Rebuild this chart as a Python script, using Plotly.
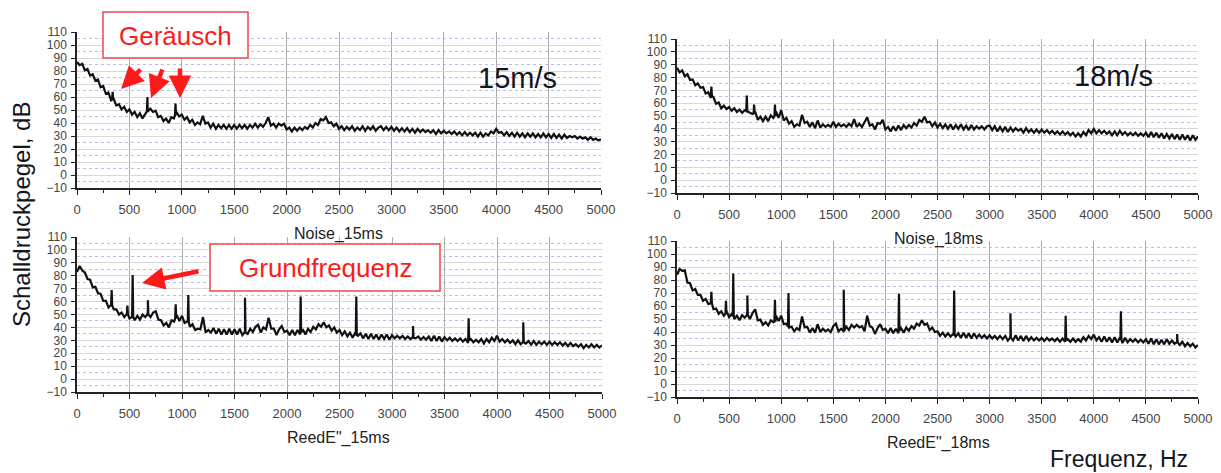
import plotly.graph_objects as go

# Frequency grid (Hz) shared by all four spectra
freq = list(range(0, 5001, 25))

# Sound pressure level (dB), 25 Hz steps
noise_15 = [
    87, 84.5, 85.5, 80.5, 81.5, 76.5, 77.5, 72.5, 73.5, 67.5, 68.5, 62.5, 63.5, 57.5, 58.5, 53.5, 54.5, 50.5, 52.5, 48.5,
    50.5, 46.5, 48.5, 44.5, 47.5, 43.5, 47.5, 48.5, 51, 48.5, 49.5, 44.5, 45.5, 41.5, 43.5, 40, 44.5, 43.5, 48.5, 45,
    46.5, 42.5, 44.5, 40.5, 42.5, 38.5, 40.5, 39, 45.5, 39.5, 40.5, 36.5, 39.5, 35.5, 38.5, 36, 38.5, 35.5, 38.5, 35.5,
    38.5, 35.5, 38.5, 36, 38.5, 35.5, 38.5, 36.5, 39.5, 36.5, 39, 37, 40, 44.5, 38, 39.5, 36.5, 39.5, 38, 39.5,
    35, 36.5, 33.5, 36.5, 34, 36.5, 34.5, 37, 35.5, 38.5, 36.5, 40, 38.5, 43, 42, 44.5, 40, 40.5, 37.5, 39.5,
    35.5, 37.5, 34.5, 37, 35, 37.5, 34, 36.5, 34.5, 37.5, 34, 37, 35, 37.5, 34, 36.5, 37.5, 34.5, 37, 34.5,
    37, 34, 36.5, 33.5, 36, 33.5, 36, 33, 35.5, 32.5, 35.5, 33, 35, 33, 34.5, 32.5, 34.5, 31.5, 34.5, 32,
    34, 32, 33.5, 31.5, 33.5, 31, 33, 30.5, 33, 30.5, 32.5, 30.5, 32.5, 29.5, 32.5, 29.5, 32, 30.5, 33.5, 32,
    35.5, 32.5, 33, 30.5, 33, 30, 32.5, 29.5, 32.5, 29.5, 32, 29, 32, 29.5, 32, 29, 31.5, 29, 32, 29,
    31.5, 28.5, 31.5, 28.5, 31, 28, 31, 28.5, 30, 29, 30, 28, 29.5, 28, 29, 27, 29, 27, 28, 26.5, 27.5,
]
noise_18 = [
    87.5, 84, 85.5, 81, 82.5, 78, 78.5, 74, 75.5, 72, 72.5, 67.5, 68.5, 64, 64.5, 59.5, 60.5, 56, 58, 55.5,
    57, 54, 56, 53, 55, 52.5, 54.5, 52.5, 52.5, 51.5, 53.5, 47, 49.5, 46, 49.5, 46, 50.5, 48.5, 53.5, 48.5,
    54.5, 46.5, 48.5, 44, 46, 41.5, 43.5, 42.5, 51, 44.5, 45.5, 41.5, 45, 40.5, 46.5, 41, 43.5, 41.5, 43, 41.5,
    45.5, 41.5, 44, 42, 43.5, 41.5, 44, 42, 47.5, 41.5, 44, 41.5, 45.5, 49, 42.5, 43.5, 39.5, 44.5, 44, 47,
    39.5, 41.5, 38, 42, 38.5, 42.5, 39, 43, 40.5, 43, 41, 44.5, 42.5, 47, 45.5, 49.5, 45, 45.5, 42, 45,
    41, 44, 40.5, 43.5, 40, 43.5, 39.5, 43, 40, 43.5, 39.5, 42.5, 39, 43, 39.5, 42, 40, 42, 39.5, 42,
    42.5, 39, 42, 38, 41.5, 38, 41.5, 37.5, 41, 38, 40.5, 38.5, 40, 37, 40.5, 37.5, 39.5, 37, 39.5, 37,
    39.5, 37, 39, 36.5, 38.5, 36, 38, 35.5, 38, 35.5, 37.5, 35, 37, 34, 36.5, 34, 37.5, 35, 39, 36.5,
    40, 36.5, 39, 36.5, 38.5, 36, 38, 35, 38, 35, 38.5, 35.5, 37.5, 35, 37, 35, 37, 34.5, 36.5, 34.5,
    37, 33.5, 37.5, 33.5, 37, 33, 36.5, 32.5, 36, 32.5, 36, 32, 35.5, 31.5, 35.5, 31.5, 35, 31, 35, 31.5, 34,
]
reed_15 = [
    83, 87.5, 84, 82.5, 77.5, 77, 71, 71.5, 66.5, 66, 60.5, 60.5, 55.5, 57.5, 54, 54, 50, 51.5, 48, 50.5,
    47, 49.5, 45.5, 49, 46, 50, 48, 52.5, 48, 51.5, 52.5, 46, 45.5, 41.5, 43.5, 40, 45.5, 44.5, 49.5, 45,
    49, 43.5, 44.5, 40.5, 42.5, 38, 39, 38.5, 48, 36, 38, 36, 39.5, 35, 39, 34.5, 38.5, 34.5, 39, 34.5,
    38.5, 34.5, 39, 34, 37.5, 35, 39, 36.5, 40.5, 42, 36, 40, 38.5, 47.5, 39, 39, 34, 38.5, 41, 36.5,
    37.5, 34, 38, 34, 38, 34.5, 38.5, 34.5, 39, 36.5, 40.5, 38.5, 42.5, 40.5, 44, 40, 41.5, 37.5, 40, 36,
    38, 34, 37, 33, 36, 32, 36, 33.5, 35.5, 31.5, 35, 31, 35, 31, 34.5, 30.5, 34.5, 31, 34.5, 30.5,
    34, 31.5, 33.5, 31.5, 33.5, 31, 33, 31, 33.5, 31.5, 33, 30.5, 32.5, 30.5, 33, 29.5, 33.5, 29.5, 33, 29,
    32.5, 30, 32, 29.5, 31.5, 29.5, 31.5, 29, 31, 28, 31, 28.5, 30.5, 28.5, 31, 27.5, 31, 28.5, 32, 29.5,
    33.5, 29, 31, 28.5, 30.5, 28, 30, 27, 30, 27, 30, 27.5, 29.5, 26.5, 29.5, 26.5, 29, 27, 29, 26.5,
    29, 26.5, 28.5, 26.5, 28.5, 26, 28, 25.5, 28, 25.5, 27, 25, 27, 24, 26.5, 24.5, 27, 24.5, 26.5, 24.5, 26,
]
reed_18 = [
    84, 88.5, 87, 87.5, 78, 77.5, 72, 73, 68.5, 68.5, 64, 65.5, 61.5, 63, 57.5, 58, 54, 56, 52.5, 56,
    51.5, 54, 50, 52.5, 49, 53, 51, 55.5, 50, 54.5, 57.5, 49, 49.5, 45.5, 47.5, 45, 49, 47.5, 52.5, 48.5,
    52.5, 46, 46.5, 42.5, 44, 40.5, 43, 41.5, 52, 43.5, 44, 39.5, 43, 39.5, 46, 40, 42.5, 40.5, 42, 40,
    44.5, 46.5, 40.5, 42.5, 40, 44, 41.5, 45.5, 43.5, 45.5, 43.5, 44.5, 40.5, 52.5, 44.5, 43.5, 38.5, 43, 46, 41.5,
    42.5, 39, 43, 39, 42.5, 39, 43, 39.5, 43.5, 41, 44.5, 42.5, 46.5, 45, 49, 45.5, 46.5, 41.5, 43.5, 40,
    40.5, 37, 39.5, 36.5, 39, 36.5, 38.5, 36.5, 39, 35.5, 39.5, 35.5, 39, 35, 39, 35.5, 38, 35.5, 37.5, 35,
    37.5, 35, 37, 34.5, 37, 34.5, 37, 33.5, 37, 33.5, 37.5, 33.5, 37, 33, 37, 33.5, 36, 33.5, 35.5, 33.5,
    35.5, 33, 35.5, 33.5, 35, 33, 35, 32.5, 35, 32.5, 34.5, 32.5, 35, 32.5, 34.5, 32.5, 36, 33.5, 37, 34.5,
    38, 33.5, 36, 32.5, 36.5, 32.5, 36, 32, 36, 32, 35.5, 31.5, 35.5, 32, 34.5, 32.5, 34.5, 32, 34, 32,
    34.5, 31, 35, 30.5, 34.5, 30.5, 34, 30.5, 34.5, 31, 33.5, 31, 33.5, 30, 32.5, 29, 31.5, 29, 31, 28, 30,
]

# Narrow tonal peaks: (frequency Hz, peak dB, foot dB)
noise_15_peaks = [(340, 64, 58), (672, 60, 49), (940, 55, 46)]
noise_18_peaks = [(330, 73, 66), (670, 66, 54), (740, 59, 52), (940, 59, 50)]
reed_15_peaks = [(330, 69, 57), (480, 57, 50), (530, 80.5, 48), (675, 61, 50), (940, 58, 47),
                 (1060, 65, 44), (1600, 63, 36), (2130, 64, 36), (2660, 64, 34),
                 (3200, 41, 32), (3730, 47, 30), (4250, 44, 28.5)]
reed_18_peaks = [(330, 71, 62), (470, 64, 54), (540, 85, 52), (675, 68, 53), (940, 64.5, 48),
                 (1070, 70, 44), (1600, 72.5, 41), (2130, 69.5, 41), (2660, 72, 37.5),
                 (3200, 54.5, 35.5), (3730, 52.5, 33.5), (4260, 56, 34), (4800, 38.5, 32)]

for series in (noise_15, noise_18, reed_15, reed_18):
    assert len(series) == len(freq), len(series)

W, H = 1221, 473
FONT = "Arial, 'Liberation Sans', sans-serif"


def px(x):
    return x / W


def py(y):
    return 1 - y / H


def spectrum(levels, peaks):
    pts = list(zip(freq, levels))
    for f, peak, foot in peaks:
        pts += [(f - 5, foot), (f, peak), (f + 5, foot)]
    pts.sort()
    return [p[0] for p in pts], [p[1] for p in pts]


# panel pixel boxes: (left, right, top, bottom)
panels = [
    ("x", "y", (77, 601, 32, 188), noise_15, noise_15_peaks),
    ("x2", "y2", (677, 1198, 39, 193), noise_18, noise_18_peaks),
    ("x3", "y3", (77, 602, 237, 392), reed_15, reed_15_peaks),
    ("x4", "y4", (677, 1198, 241, 397), reed_18, reed_18_peaks),
]

fig = go.Figure()
layout = dict(
    template="none",
    width=W, height=H, margin=dict(l=0, r=0, t=0, b=0, pad=0),
    paper_bgcolor="white", plot_bgcolor="white", showlegend=False,
    font=dict(family=FONT, color="#333"),
)

for i, (xa, ya, (l, r, t, b), levels, peaks) in enumerate(panels):
    fx, fy = spectrum(levels, peaks)
    fig.add_trace(go.Scatter(x=fx, y=fy, xaxis=xa, yaxis=ya, mode="lines",
                             line=dict(color="#111", width=2.2), hoverinfo="skip"))
    sfx = "" if i == 0 else str(i + 1)
    layout["xaxis" + sfx] = dict(
        domain=[px(l), px(r)], range=[0, 5000], anchor=ya, automargin=False,
        tickmode="linear", tick0=0, dtick=500, ticks="outside", ticklen=5,
        tickcolor="#222", tickwidth=1.3,
        showline=True, linecolor="#222", linewidth=1.5,
        showgrid=True, gridcolor="#ababab", gridwidth=1, zeroline=False,
        tickfont=dict(size=13, color="#444"), ticklabelstandoff=4,
        minor=dict(dtick=250, ticks="outside", ticklen=3, tickcolor="#222", showgrid=False),
        fixedrange=True,
    )
    layout["yaxis" + sfx] = dict(
        domain=[py(b), py(t)], range=[-10, 110], anchor=xa, automargin=False,
        tickmode="linear", tick0=-10, dtick=10, ticks="outside", ticklen=4,
        tickcolor="#222", tickwidth=1.3,
        showline=True, linecolor="#222", linewidth=1.5,
        showgrid=True, gridcolor="#d8d8d8", gridwidth=1, zeroline=False,
        tickfont=dict(size=12, color="#444"), ticklabelstandoff=2,
        minor=dict(tick0=-5, dtick=10, ticks="", showgrid=True,
                   gridcolor="rgba(120,120,225,0.5)", griddash="dot", gridwidth=1),
        fixedrange=True,
    )

fig.update_layout(**layout)

annotations = []
shapes = []


def text(x, y, s, size, color="#222", **kw):
    annotations.append(dict(x=px(x), y=py(y), xref="paper", yref="paper", text=s,
                            showarrow=False, font=dict(size=size, color=color, family=FONT),
                            xanchor="center", yanchor="middle", **kw))


def arrow(x0, y0, x1, y1):
    annotations.append(dict(x=px(x1), y=py(y1), xref="paper", yref="paper", text="",
                            showarrow=True, ax=x0 - x1, ay=y0 - y1, axref="pixel", ayref="pixel",
                            arrowhead=2, arrowsize=1.0, arrowwidth=4.5, arrowcolor="#ff1a1a",
                            standoff=0))


# speed labels
text(517, 78, "15m/s", 29, "#141420")
text(1113, 76, "18m/s", 29, "#141420")

# panel captions
text(338, 234, "Noise_15ms", 16, "#222")
text(338, 438, "ReedE\"_15ms", 16, "#222")
text(938, 239, "Noise_18ms", 16, "#222")
text(938, 443, "ReedE\"_18ms", 16, "#222")

# shared axis titles
text(21, 215, "Schalldruckpegel, dB", 24, "#141420", textangle=-90)
text(1119, 459, "Frequenz, Hz", 23, "#141420")

# callout boxes
shapes.append(dict(type="rect", xref="paper", yref="paper", x0=px(103), x1=px(248),
                   y0=py(58), y1=py(12), line=dict(color="#f04a4a", width=1.5),
                   fillcolor="white", layer="above"))
shapes.append(dict(type="rect", xref="paper", yref="paper", x0=px(210), x1=px(440),
                   y0=py(291), y1=py(244), line=dict(color="#f04a4a", width=1.5),
                   fillcolor="white", layer="above"))
text(175, 36, "Geräusch", 26, "#ff1a1a")
text(325, 268, "Grundfrequenz", 26, "#ff1a1a")

# callout arrows
arrow(142, 68, 121, 89)
arrow(163, 68, 151, 98)
arrow(180, 67, 180, 98)
arrow(200, 271, 142, 283)

fig.update_layout(annotations=annotations, shapes=shapes)

fig.write_html("out.html", config={"displayModeBar": False})
